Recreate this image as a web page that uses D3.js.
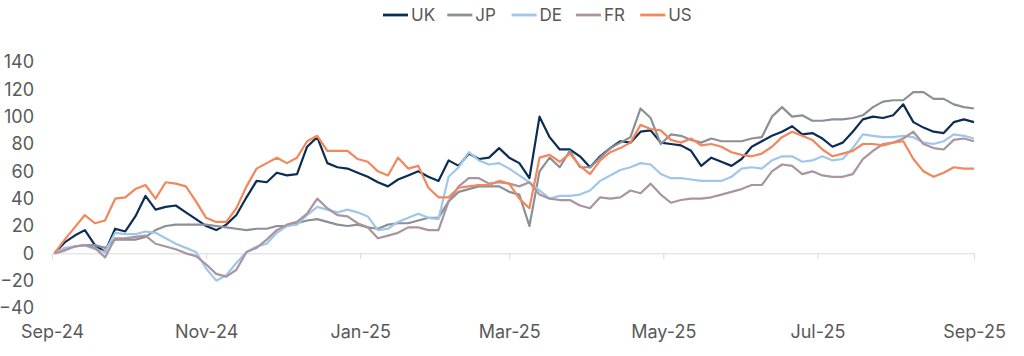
<!DOCTYPE html>
<html>
<head>
<meta charset="utf-8">
<script src="https://cdn.jsdelivr.net/npm/d3@7/dist/d3.min.js"></script>
<style>
  html, body { margin: 0; padding: 0; background: #ffffff; }
  svg { display: block; }
  text { font-family: Inter, "Noto Sans", sans-serif; fill: #595959; }
</style>
</head>
<body>
<svg id="chart" width="1024" height="356"></svg>
<script>
// ---- data (one every 4 days from 2 Sep 2024) ----
const startDate = "2024-09-02";
const stepDays = 4;

const seriesNames = ["UK", "JP", "DE", "FR", "US"];
const seriesColors = ["#0c2d53", "#8b9097", "#a0c6e9", "#a9959f", "#f2875b"];

const UK = [0, 8, 13, 17, 6, 1, 18, 16, 27, 42, 32, 34, 35, 30, 25, 20, 17, 21, 28, 41, 53, 52, 59,
  57, 58, 78, 85, 66, 63, 62, 59, 56, 52, 49, 54, 57, 60, 56,
  53, 68, 64, 73, 69, 70, 77, 70, 66, 55, 100, 85, 76, 76, 71, 63, 71,
  77, 82, 81, 89, 90, 81, 80, 79, 75, 64, 70, 67, 64, 69, 78,
  82, 86, 89, 93, 87, 88, 84, 78, 81, 89, 98, 100,
  99, 101, 109, 96, 92, 89, 88, 96, 98, 96];

const JP = [0, 3, 5, 6, 6, 4, 10, 10, 10, 12, 17, 20, 21, 21, 21, 21, 20, 19, 18, 17, 18, 18, 20,
  20, 22, 24, 25, 23, 21, 20, 21, 19, 18, 21, 22, 22, 24, 26,
  26, 38, 45, 47, 49, 49, 49, 45, 43, 20, 60, 70, 63, 75, 63, 63, 70,
  77, 81, 85, 106, 99, 80, 87, 86, 83, 81, 84, 82, 82, 82, 84,
  85, 100, 107, 100, 101, 97, 97, 98, 98, 99, 101, 107,
  111, 112, 112, 118, 118, 113, 113, 109, 107, 106];

const DE = [0, 4, 5, 6, 3, 1, 15, 14, 14, 16, 15, 11, 7, 4, 1, -11, -20, -16, -7, 1, 5, 7, 15,
  20, 21, 28, 34, 32, 30, 32, 30, 27, 17, 18, 23, 26, 29, 26,
  25, 56, 63, 74, 68, 65, 66, 62, 57, 52, 46, 40, 42, 42, 43, 46, 53,
  57, 61, 63, 66, 65, 58, 55, 55, 54, 53, 53, 53, 56, 62, 63,
  62, 68, 71, 71, 67, 68, 71, 68, 69, 77, 87, 86,
  85, 85, 86, 85, 81, 80, 82, 87, 86, 84];

const FR = [0, 2, 5, 6, 4, -3, 11, 11, 12, 13, 7, 5, 3, 0, -2, -8, -15, -17, -12, 1, 4, 10, 17,
  21, 23, 29, 40, 33, 28, 27, 22, 19, 11, 13, 15, 19, 19, 17,
  17, 38, 49, 55, 55, 51, 52, 51, 49, 52, 43, 40, 39, 39, 35, 33, 41,
  40, 41, 46, 44, 51, 43, 37, 39, 40, 40, 41, 43, 45, 47, 50,
  50, 60, 65, 64, 58, 60, 57, 56, 56, 58, 69, 75,
  80, 81, 84, 89, 80, 77, 76, 83, 84, 82];

const US = [0, 10, 19, 28, 22, 24, 40, 41, 47, 50, 40, 52, 51, 49, 38, 26, 23, 23, 33, 49, 62, 66, 70,
  66, 70, 82, 86, 75, 75, 75, 69, 67, 60, 57, 70, 62, 64, 48,
  41, 41, 48, 49, 50, 50, 53, 51, 40, 33, 70, 72, 67, 73, 64, 58, 68,
  74, 77, 81, 94, 91, 90, 83, 81, 84, 79, 80, 78, 74, 72, 71,
  73, 78, 85, 89, 86, 83, 76, 71, 73, 75, 80, 80,
  79, 81, 82, 69, 60, 56, 59, 63, 62, 62];

const yTicks = [-40, -20, 0, 20, 40, 60, 80, 100, 120, 140];
const xTickLabels = ["Sep-24", "Nov-24", "Jan-25", "Mar-25", "May-25", "Jul-25", "Sep-25"];
const xTickDates = ["2024-09-01", "2024-11-01", "2025-01-01", "2025-03-01", "2025-05-01", "2025-07-01", "2025-09-01"];

// ---- build ----
const parse = d3.utcParse("%Y-%m-%d");
const start = parse(startDate);
const dates = UK.map((_, i) => d3.utcDay.offset(start, i * stepDays));
const seriesValues = [UK, JP, DE, FR, US];

const svg = d3.select("#chart");

const x = d3.scaleUtc()
  .domain([parse(xTickDates[0]), parse(xTickDates[xTickDates.length - 1])])
  .range([52, 974]);
const y = d3.scaleLinear().domain([-40, 140]).range([308, 62]);

// zero line + month ticks
const xAxis = d3.axisBottom(x)
  .tickValues(xTickDates.map(parse))
  .tickFormat((d, i) => xTickLabels[i])
  .tickSizeInner(6).tickSizeOuter(0).tickPadding(66);
const gx = svg.append("g").attr("transform", `translate(0,${y(0)})`).call(xAxis);
gx.select(".domain").attr("stroke", "#d9d9d9").attr("stroke-width", 1);
gx.selectAll(".tick line").attr("stroke", "#d9d9d9");
gx.selectAll(".tick text").attr("font-size", 18).attr("fill", "#595959")
  .attr("font-family", "Inter, 'Noto Sans', sans-serif");

// y axis labels
const yAxis = d3.axisLeft(y).tickValues(yTicks).tickSize(0).tickPadding(0);
const gy = svg.append("g").attr("transform", "translate(34,0)").call(yAxis);
gy.select(".domain").remove();
gy.selectAll(".tick text").attr("font-size", 18).attr("fill", "#595959")
  .attr("font-family", "Inter, 'Noto Sans', sans-serif");

// lines
const line = d3.line().x((d, i) => x(dates[i])).y(d => y(d));
svg.append("g").selectAll("path")
  .data(seriesValues)
  .join("path")
  .attr("d", d => line(d))
  .attr("fill", "none")
  .attr("stroke", (d, i) => seriesColors[i])
  .attr("stroke-width", 2.2)
  .attr("stroke-linejoin", "round");

// legend
const legend = svg.append("g");
const items = legend.selectAll("g").data(seriesNames).join("g")
  .attr("transform", (d, i) => `translate(${383 + i * 64.3},15)`);
items.append("line").attr("x1", 0).attr("x2", 25).attr("y1", 0).attr("y2", 0)
  .attr("stroke", (d, i) => seriesColors[i]).attr("stroke-width", 2.8);
items.append("text").attr("x", 28).attr("y", 0).attr("dy", "0.36em")
  .attr("font-size", 17).text(d => d);
</script>
</body>
</html>
